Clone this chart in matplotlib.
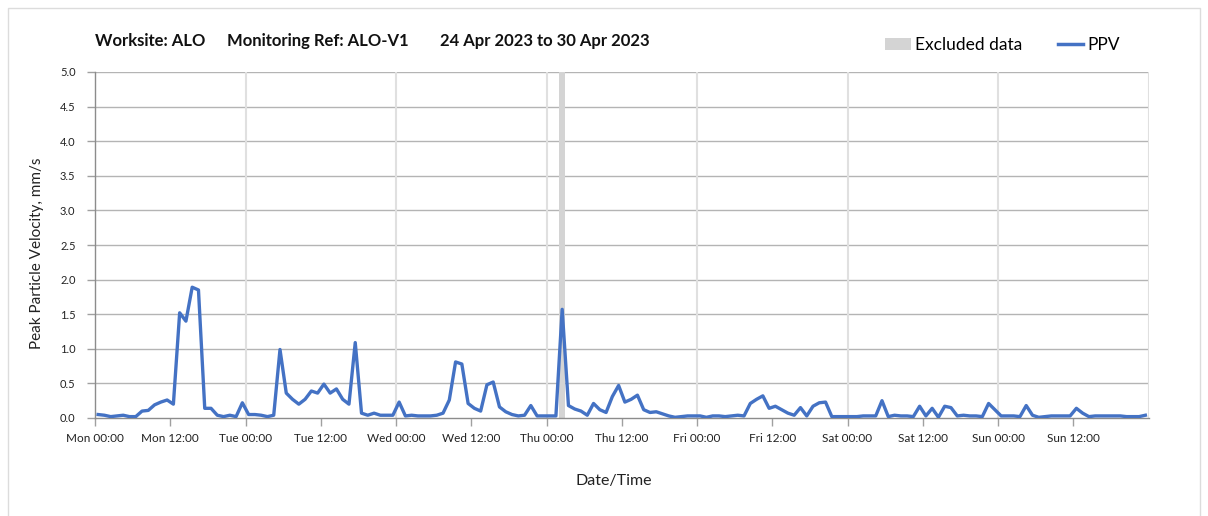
import matplotlib
matplotlib.use("Agg")
import matplotlib.pyplot as plt
from matplotlib.patches import Rectangle, Patch
from matplotlib.lines import Line2D
import numpy as np

plt.rcParams['font.family'] = ['Lato', 'DejaVu Sans']

# hourly PPV values (mm/s), one per hour from Mon 24 Apr 2023 00:00
ppv = [
    0.05, 0.04, 0.02, 0.03, 0.04, 0.02, 0.02, 0.10, 0.11, 0.19, 0.23, 0.26,
    0.20, 1.52, 1.40, 1.89, 1.85, 0.14, 0.14, 0.04, 0.02, 0.04, 0.02, 0.22,
    0.05, 0.05, 0.04, 0.02, 0.04, 0.99, 0.36, 0.27, 0.20, 0.27, 0.39, 0.36,
    0.49, 0.36, 0.42, 0.27, 0.20, 1.09, 0.07, 0.04, 0.07, 0.04, 0.04, 0.04,
    0.23, 0.03, 0.04, 0.03, 0.03, 0.03, 0.04, 0.07, 0.26, 0.81, 0.78, 0.21,
    0.14, 0.10, 0.48, 0.52, 0.16, 0.09, 0.05, 0.03, 0.04, 0.18, 0.03, 0.03,
    0.03, 0.03, 1.57, 0.18, 0.13, 0.10, 0.04, 0.21, 0.12, 0.08, 0.31, 0.47,
    0.23, 0.27, 0.33, 0.12, 0.08, 0.09, 0.06, 0.03, 0.01, 0.02, 0.03, 0.03,
    0.03, 0.01, 0.03, 0.03, 0.02, 0.03, 0.04, 0.03, 0.21, 0.27, 0.32, 0.14,
    0.17, 0.12, 0.07, 0.04, 0.15, 0.03, 0.17, 0.22, 0.23, 0.02, 0.02, 0.02,
    0.02, 0.02, 0.03, 0.03, 0.03, 0.25, 0.02, 0.04, 0.03, 0.03, 0.02, 0.17,
    0.03, 0.14, 0.01, 0.17, 0.15, 0.03, 0.04, 0.03, 0.03, 0.02, 0.21, 0.12,
    0.03, 0.03, 0.03, 0.02, 0.18, 0.04, 0.01, 0.02, 0.03, 0.03, 0.03, 0.03,
    0.14, 0.07, 0.02, 0.03, 0.03, 0.03, 0.03, 0.03, 0.02, 0.02, 0.02, 0.04,
]
excluded_hours = [74]  # Thu 02:00-03:00
xtick_labels = ["Mon 00:00", "Mon 12:00", "Tue 00:00", "Tue 12:00", "Wed 00:00",
                "Wed 12:00", "Thu 00:00", "Thu 12:00", "Fri 00:00", "Fri 12:00",
                "Sat 00:00", "Sat 12:00", "Sun 00:00", "Sun 12:00"]
ytick_values = [0.0, 0.5, 1.0, 1.5, 2.0, 2.5, 3.0, 3.5, 4.0, 4.5, 5.0]
title_parts = ["Worksite: ALO", "Monitoring Ref: ALO-V1", "24 Apr 2023 to 30 Apr 2023"]

hours = np.arange(len(ppv)) + 0.5

fig = plt.figure(figsize=(12.08, 5.16), dpi=100)
ax = fig.add_axes([95/1208, 1-418/516, (1148.5-95)/1208, (418-72)/516])

# figure border
fig.patches.append(Rectangle((8/1208, -0.02), (1200-8)/1208, 1.0 - 8/516 + 0.02,
                             transform=fig.transFigure, fill=False,
                             edgecolor='#dcdcdc', lw=1.0))

# gridlines
for yv in ytick_values[1:]:
    ax.axhline(yv, color='#b4b4b4', lw=1.0, zorder=1)
for xv in range(24, 169, 24):
    ax.axvline(xv, color='#e0e0e0', lw=1.5, zorder=1)

for h in excluded_hours:
    ax.axvspan(h, h + 1, color='#d4d4d4', lw=0, zorder=2)

ax.plot(hours, ppv, color='#4472C4', lw=2.4, zorder=3, solid_joinstyle='round')

ax.set_xlim(0, 168)
ax.set_ylim(0, 5.0)
ax.set_xticks(np.arange(0, 168, 12))
ax.set_xticklabels(xtick_labels, fontsize=8.5, color='#222222')
ax.set_yticks(ytick_values)
ax.set_yticklabels([f"{v:.1f}" for v in ytick_values], fontsize=8, color='#222222')
ax.tick_params(axis='x', length=6, width=1, color='#a0a0a0', pad=5)
ax.tick_params(axis='y', length=6, width=1, color='#a0a0a0', pad=8)

for s in ['top', 'right']:
    ax.spines[s].set_visible(False)
for s in ['left', 'bottom']:
    ax.spines[s].set_color('#8c8c8c')
    ax.spines[s].set_linewidth(1.0)

ax.set_ylabel("Peak Particle Velocity, mm/s", fontsize=11, color='#222222')
ax.yaxis.set_label_coords((37 - 95) / 1053.5, (418 - 253) / 346)
ax.set_xlabel("Date/Time", fontsize=11.5, color='#222222')
ax.xaxis.set_label_coords((614 - 95) / 1053.5, -(481 - 418) / 346)
ax.xaxis.label.set_va('center')
ax.yaxis.label.set_va('center')

for txt, xp in zip(title_parts, [95, 227, 440]):
    fig.text(xp/1208, 1-41/516, txt, fontsize=12, fontweight='bold',
             va='center', ha='left', color='#111111')

handles = [Patch(facecolor='#d4d4d4', edgecolor='none', label='Excluded data'),
           Line2D([0], [0], color='#4472C4', lw=2.5, label='PPV')]
leg = fig.legend(handles=handles, loc='center right', bbox_to_anchor=(1132/1208, 1-45/516),
                 ncol=2, frameon=False, fontsize=12.5, handlelength=1.45,
                 handletextpad=0.25, columnspacing=2.05, borderpad=0.2)

fig.savefig("out.png", dpi=100)
